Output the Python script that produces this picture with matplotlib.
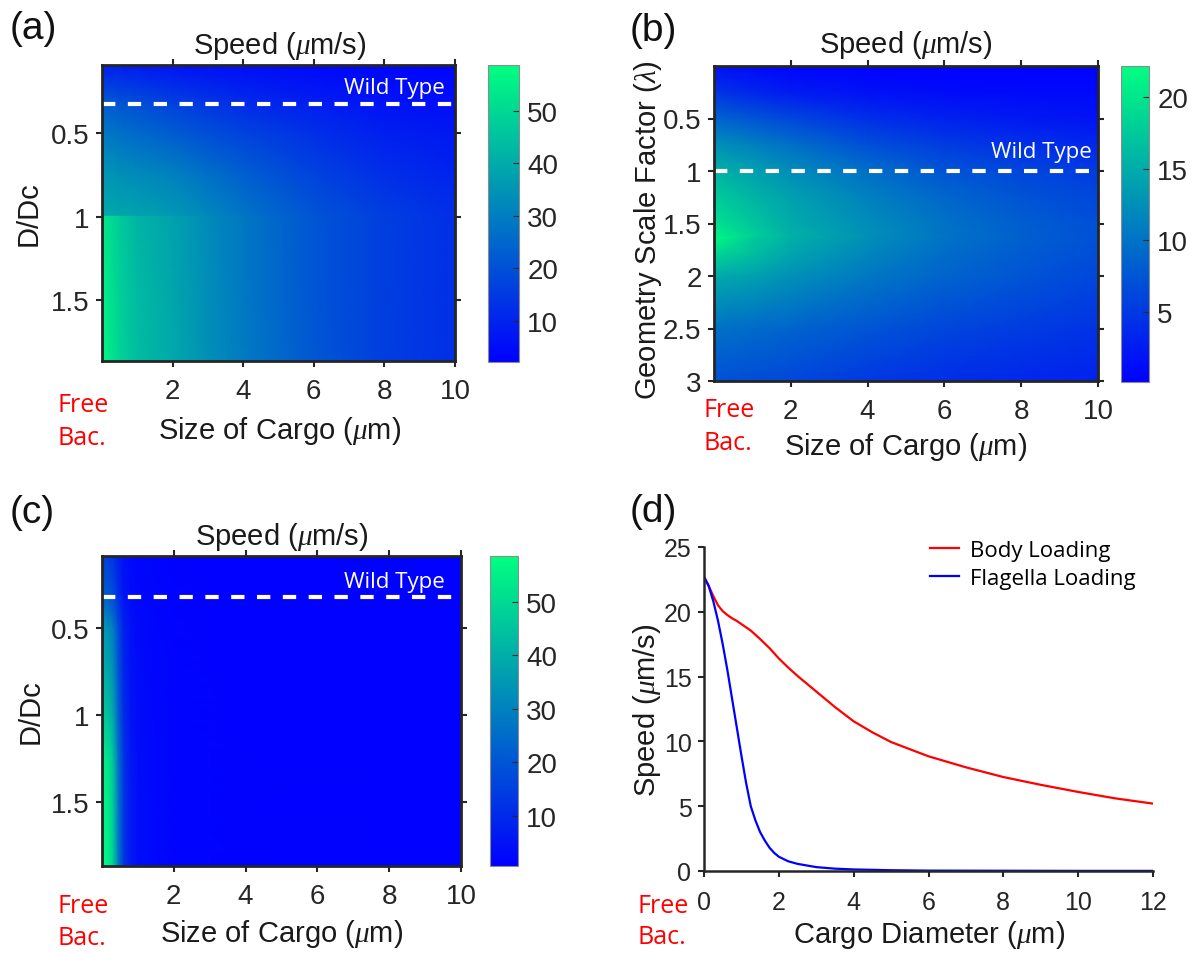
import numpy as np
import matplotlib
matplotlib.use("Agg")
import matplotlib.pyplot as plt
from matplotlib.ticker import FuncFormatter

plt.rcParams.update({
    'font.family': ['Liberation Sans', 'DejaVu Sans'],
    'mathtext.fontset': 'custom',
    'mathtext.rm': 'Liberation Sans',
    'mathtext.it': 'Liberation Serif:italic',
    'mathtext.default': 'it',
})

# ---------------- data ----------------
# (a) speed vs cargo size and D/Dc (body loading)
a_cargo = [0, 0.5, 1, 2, 3, 4, 6, 8, 10]
a_ddc = [0.09, 0.33, 0.5, 0.75, 0.995, 1.0, 1.5, 1.87]
a_speed = [
    [9.0, 8.5, 8.0, 6.5, 5.5, 5.0, 4.0, 3.5, 3.0],
    [23.0, 21.5, 20.0, 17.0, 14.5, 12.0, 9.0, 6.5, 5.5],
    [29.0, 27.0, 25.5, 22.5, 19.5, 17.0, 12.5, 9.0, 7.5],
    [36.0, 34.0, 33.0, 31.0, 27.0, 23.5, 17.0, 12.5, 10.0],
    [40.0, 39.0, 38.0, 36.0, 32.0, 28.0, 21.0, 16.0, 12.5],
    [54.0, 47.0, 42.0, 38.0, 33.0, 28.5, 21.0, 16.0, 12.5],
    [56.0, 48.5, 43.5, 39.0, 33.5, 29.0, 21.0, 16.0, 12.7],
    [57.0, 49.0, 44.0, 39.5, 34.0, 29.5, 21.5, 16.0, 12.7],
]
a_clim = [2.1, 58.7]
a_cticks = [10, 20, 30, 40, 50]
a_yticks = [0.5, 1, 1.5]
a_wild = 0.325

# (b) speed vs cargo size and geometry scale factor
b_cargo = [0, 1, 2, 4, 6, 8, 10]
b_lambda = [0, 0.25, 0.5, 0.75, 1.0, 1.25, 1.5, 1.625, 1.64, 1.8, 2.0, 2.5, 3.0]
b_speed = [
    [1.5, 0.9, 0.5, 0.3, 0.2, 0.2, 0.2],
    [4.6, 3.4, 2.5, 1.6, 1.2, 1.0, 0.9],
    [8.8, 7.5, 6.3, 4.1, 3.0, 2.3, 1.8],
    [12.7, 11.2, 9.8, 7.0, 5.3, 4.3, 3.5],
    [15.6, 14.0, 12.3, 9.7, 7.5, 6.2, 5.2],
    [17.8, 15.8, 14.0, 11.3, 9.0, 7.4, 6.3],
    [19.6, 17.2, 14.9, 12.3, 10.0, 8.3, 7.0],
    [21.3, 18.2, 15.5, 12.6, 10.2, 8.4, 7.1],
    [21.8, 17.6, 15.3, 12.5, 10.1, 8.4, 7.1],
    [18.5, 16.5, 14.3, 11.6, 9.5, 8.0, 6.8],
    [14.9, 14.0, 12.7, 10.5, 8.8, 7.5, 6.3],
    [10.0, 9.4, 8.8, 7.5, 6.2, 5.3, 4.5],
    [7.1, 6.7, 6.3, 5.0, 4.0, 3.5, 3.0],
]
b_clim = [0.1, 22.2]
b_cticks = [5, 10, 15, 20]
b_yticks = [0.5, 1, 1.5, 2, 2.5, 3]
b_wild = 1.0

# (c) speed vs cargo size and D/Dc (flagella loading)
c_cargo = [0, 0.15, 0.3, 0.45, 0.6, 0.8, 1.0, 1.5, 2, 4, 10]
c_ddc = [0.09, 0.33, 0.5, 0.75, 1.0, 1.25, 1.5, 1.87]
c_speed = [
    [14.8, 14.5, 12.5, 8.0, 4.5, 2.8, 2.2, 1.6, 1.3, 1.1, 1.0],
    [22.0, 21.5, 18.5, 11.5, 5.8, 3.3, 2.5, 1.8, 1.4, 1.1, 1.0],
    [35.0, 34.0, 29.0, 18.0, 8.5, 4.5, 3.0, 2.0, 1.5, 1.1, 1.0],
    [40.0, 39.0, 34.0, 20.5, 9.5, 5.0, 3.2, 2.1, 1.6, 1.1, 1.0],
    [46.0, 45.0, 39.0, 23.5, 11.0, 5.5, 3.5, 2.2, 1.6, 1.1, 1.0],
    [54.0, 53.0, 46.0, 27.5, 12.5, 6.2, 3.8, 2.3, 1.7, 1.2, 1.0],
    [56.0, 55.0, 47.5, 28.5, 13.0, 6.4, 3.9, 2.3, 1.7, 1.2, 1.0],
    [57.0, 56.0, 48.5, 29.0, 13.3, 6.5, 4.0, 2.4, 1.7, 1.2, 1.0],
]
c_clim = [0.65, 58.6]
c_cticks = [10, 20, 30, 40, 50]
c_yticks = [0.5, 1, 1.5]
c_wild = 0.325

# (d) speed vs cargo diameter
body_x = [0, 0.125, 0.25, 0.375, 0.5, 0.625, 0.75, 0.875, 1.0, 1.125, 1.25, 1.5, 1.75,
          2.0, 2.25, 2.5, 2.75, 3, 3.5, 4, 4.5, 5, 6, 7, 8, 9, 10, 11, 12]
body_y = [22.7, 22.0, 21.2, 20.5, 20.05, 19.75, 19.5, 19.3, 19.05, 18.8, 18.55, 17.9, 17.2,
          16.4, 15.7, 15.05, 14.45, 13.85, 12.65, 11.55, 10.7, 9.95, 8.85, 8.0, 7.25,
          6.65, 6.1, 5.6, 5.2]
flag_x = [0, 0.125, 0.25, 0.375, 0.5, 0.625, 0.75, 0.875, 1.0, 1.125, 1.25, 1.375, 1.5,
          1.625, 1.75, 1.875, 2.0, 2.25, 2.5, 3, 3.5, 4, 5, 6, 8, 10, 12]
flag_y = [22.7, 22.0, 20.8, 19.3, 17.5, 15.5, 13.3, 11.1, 8.9, 6.8, 5.0, 3.9, 3.0,
          2.35, 1.8, 1.4, 1.1, 0.75, 0.55, 0.3, 0.18, 0.12, 0.06, 0.03, 0.02, 0.01, 0.01]
d_labels = ['Body Loading', 'Flagella Loading']

# ---------------- figure ----------------
W, H = 1194, 954
fig = plt.figure(figsize=(W / 100, H / 100), dpi=100)
DARK = '#262626'
ANN = ['Open Sans', 'DejaVu Sans']
TICK_FS = 20
LAB_FS = 21


def R(l, t, r, b):
    return [l / W, 1 - b / H, (r - l) / W, (b - t) / H]


def T(x, y, s, **kw):
    return fig.text(x / W, 1 - y / H, s, **kw)


fmt = FuncFormatter(lambda v, p: '%g' % v)


def heatmap(ax_px, cb_px, xs, ys, zs, clim, yticks, ylim, cticks, wild):
    ax = fig.add_axes(R(*ax_px))
    X, Y = np.meshgrid(xs, ys)
    m = ax.pcolormesh(X, Y, np.asarray(zs, float), shading='gouraud',
                      cmap='winter', vmin=clim[0], vmax=clim[1])
    ax.set_xlim(0, 10)
    ax.set_ylim(ylim[1], ylim[0])
    ax.set_xticks([2, 4, 6, 8, 10])
    ax.set_yticks(yticks)
    ax.xaxis.set_major_formatter(fmt)
    ax.yaxis.set_major_formatter(fmt)
    ax.tick_params(direction='out', length=4, width=1.5, top=True, right=True,
                   labelsize=TICK_FS, colors=DARK, labelcolor=DARK)
    ax.tick_params(axis='x', pad=8)
    ax.tick_params(axis='y', pad=5)
    for s in ax.spines.values():
        s.set_linewidth(2)
        s.set_color(DARK)
    ax.axhline(wild, color='white', lw=3, dashes=(3.2, 3.0))
    cax = fig.add_axes(R(*cb_px))
    cb = fig.colorbar(m, cax=cax)
    cb.set_ticks(cticks)
    cb.outline.set_linewidth(0.8)
    cb.outline.set_edgecolor('#8c8c8c')
    cax.tick_params(direction='in', length=4, width=0.8, labelsize=TICK_FS,
                    colors=DARK, pad=6)
    return ax


# (a)
heatmap((102, 66, 455, 362), (488, 66, 519, 363), a_cargo, a_ddc, a_speed,
        a_clim, a_yticks, (0.09, 1.867), a_cticks, a_wild)
# (b)
heatmap((714, 67, 1098, 382), (1121, 67, 1149, 383), b_cargo, b_lambda, b_speed,
        b_clim, b_yticks, (0.0, 3.0), b_cticks, b_wild)
# (c)
heatmap((102, 557, 461, 867), (490, 557, 518, 867), c_cargo, c_ddc, c_speed,
        c_clim, c_yticks, (0.09, 1.867), c_cticks, c_wild)

# (d)
axd = fig.add_axes(R(704, 548, 1153, 872))
axd.plot(body_x, body_y, color='red', lw=1.6, label=d_labels[0])
axd.plot(flag_x, flag_y, color='blue', lw=1.6, label=d_labels[1])
axd.set_xlim(0, 12)
axd.set_ylim(0, 25)
axd.set_xticks([0, 2, 4, 6, 8, 10, 12])
axd.set_yticks([0, 5, 10, 15, 20, 25])
axd.spines['top'].set_visible(False)
axd.spines['right'].set_visible(False)
for s in ('left', 'bottom'):
    axd.spines[s].set_linewidth(1.8)
    axd.spines[s].set_color(DARK)
axd.tick_params(direction='out', length=4, width=1.5, labelsize=18, colors=DARK)
axd.tick_params(axis='x', pad=10)
axd.tick_params(axis='y', pad=5)
leg = axd.legend(loc='upper left', bbox_to_anchor=(930 / W, 1 - 541 / H),
                 bbox_transform=fig.transFigure, frameon=False,
                 prop={'family': ANN, 'size': 16}, handlelength=1.3,
                 handletextpad=0.5, labelspacing=0.3, borderpad=0, borderaxespad=0)

# ---------------- texts ----------------
TITLE = 'Speed ($\\mu$m/s)'
XL = 'Size of Cargo ($\\mu$m)'
kw = dict(fontsize=LAB_FS, color='#1a1a1a', ha='center')

# panel letters
for x, y, s in [(10, 29, '(a)'), (630, 31, '(b)'), (10, 513, '(c)'), (630, 512, '(d)')]:
    T(x, y, s, fontsize=28, color='#111111', ha='left', va='center')

# titles
T(280, 54, TITLE, va='baseline', **kw)
T(906, 53, TITLE, va='baseline', **kw)
T(282, 545, TITLE, va='baseline', **kw)

# x labels
T(280, 439, XL, va='baseline', **kw)
T(906, 455, XL, va='baseline', **kw)
T(282, 942, XL, va='baseline', **kw)
T(929, 943, 'Cargo Diameter ($\\mu$m)', va='baseline', **kw)

# y labels
T(29, 214, 'D/Dc', va='center', rotation=90, **kw)
T(648, 230, 'Geometry Scale Factor ($\\lambda$)', va='center', rotation=90, **kw)
T(31, 712, 'D/Dc', va='center', rotation=90, **kw)
T(647, 710, 'Speed ($\\mu$m/s)', va='center', rotation=90, **kw)

# Free Bac.
for x, y1, y2 in [(57, 412, 445), (703, 417, 450), (57, 913, 945), (637, 913, 944)]:
    T(x, y1, 'Free', family=ANN, fontsize=18, color='red', ha='left', va='baseline')
    T(x, y2, 'Bac.', family=ANN, fontsize=18, color='red', ha='left', va='baseline')

# Wild Type
for x, y in [(445, 94), (1092, 158), (445, 588)]:
    T(x, y, 'Wild Type', family=ANN, fontsize=16, color='white', ha='right', va='baseline')

fig.savefig('out.png', dpi=100)
